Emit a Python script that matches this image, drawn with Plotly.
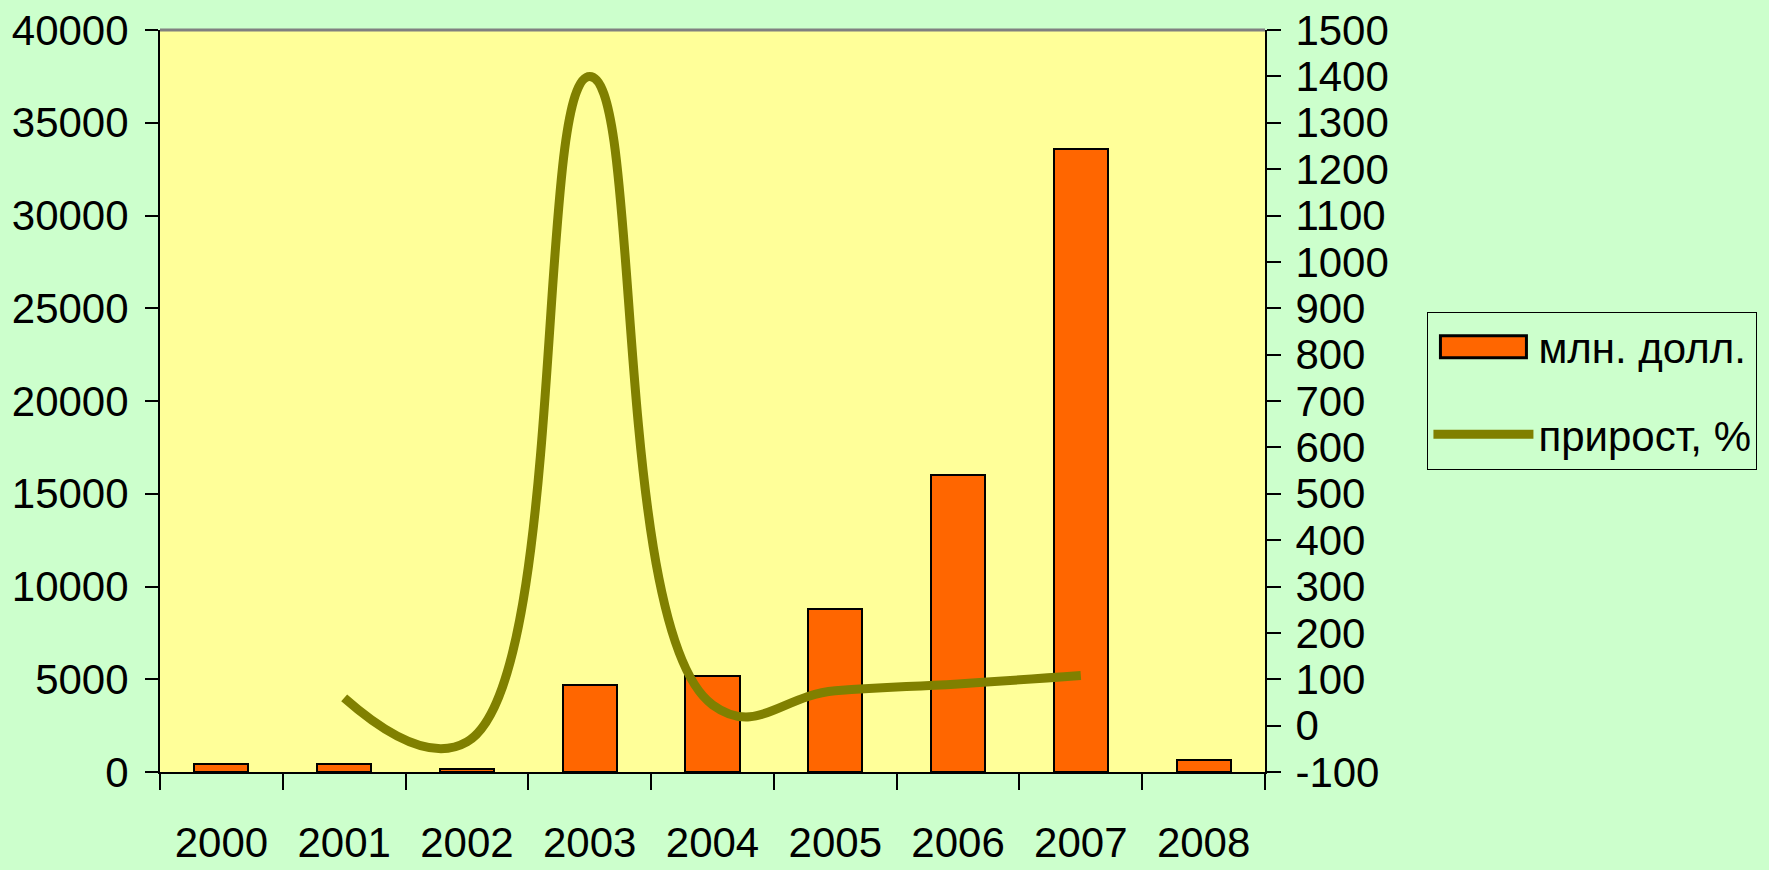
import plotly.graph_objects as go

# ---- data ----
years = ["2000", "2001", "2002", "2003", "2004", "2005", "2006", "2007", "2008"]
usd_mln = [450, 450, 180, 4700, 5200, 8800, 16000, 33600, 650]
growth_years = ["2001", "2002", "2003", "2004", "2005", "2006", "2007"]
growth_pct = [60, -35, 1400, 45, 75, 90, 108]
left_ticks = [0, 5000, 10000, 15000, 20000, 25000, 30000, 35000, 40000]
right_ticks = list(range(-100, 1501, 100))

pos = list(range(len(years)))
growth_pos = [years.index(y) for y in growth_years]
bounds = [p - 0.5 for p in pos] + [pos[-1] + 0.5]

FONT = "Liberation Sans, Arial, sans-serif"
FS = 42
PAPER = "#CCFFCC"
PLOT = "#FFFF99"

fig = go.Figure()
fig.add_trace(go.Bar(
    x=pos, y=usd_mln, width=0.44, name="млн. долл.", legendgroup="a",
    marker=dict(color="#FF6600", line=dict(color="black", width=2)),
    xaxis="x", yaxis="y",
))
fig.add_trace(go.Scatter(
    x=growth_pos, y=growth_pct, name="прирост, %", mode="lines", legendgroup="b",
    line=dict(color="#808000", width=9, shape="spline", smoothing=1.3),
    xaxis="x", yaxis="y2",
))

fig.update_layout(
    width=1769, height=870,
    margin=dict(l=160, r=496, t=30, b=98),
    paper_bgcolor=PAPER, plot_bgcolor=PLOT,
    font=dict(family=FONT, size=FS, color="black"),
    showlegend=True,
    bargap=0,
    xaxis=dict(
        range=[-0.5, len(years) - 0.5], tickmode="array", tickvals=pos, ticktext=years,
        ticks="", ticklabelstandoff=33, showgrid=False, zeroline=False, automargin=False,
        showline=True, linecolor="black", linewidth=2,
        minor=dict(tickmode="array", tickvals=bounds, ticks="outside", ticklen=16,
                   tickcolor="black", tickwidth=2, showgrid=False),
        tickfont=dict(size=FS),
    ),
    xaxis2=dict(
        overlaying="x", anchor="y", side="bottom", automargin=False,
        range=[-0.5, len(years) - 0.5], tickmode="array", tickvals=bounds,
        ticks="inside", ticklen=16, tickcolor="black", tickwidth=2,
        showticklabels=False, showgrid=False, zeroline=False, showline=False,
    ),
    yaxis=dict(
        range=[0, 40000], tickmode="array", tickvals=left_ticks,
        ticktext=[str(v) for v in left_ticks], automargin=False,
        ticks="outside", ticklen=13, tickcolor="black", tickwidth=2,
        showgrid=False, zeroline=False, showline=True, linecolor="black", linewidth=2,
        ticklabelstandoff=8, tickfont=dict(size=FS),
    ),
    yaxis3=dict(
        overlaying="y", anchor="x", side="left", automargin=False,
        range=[0, 40000], tickmode="array", tickvals=left_ticks,
        ticks="inside", ticklen=13, tickcolor="black", tickwidth=2,
        showticklabels=False, showgrid=False, zeroline=False, showline=False,
    ),
    yaxis2=dict(
        overlaying="y", anchor="x", side="right", automargin=False,
        range=[-100, 1500], tickmode="array", tickvals=right_ticks,
        ticktext=[str(v) for v in right_ticks],
        ticks="outside", ticklen=14, tickcolor="black", tickwidth=2,
        showgrid=False, zeroline=False, showline=True, linecolor="black", linewidth=2,
        ticklabelstandoff=6, tickfont=dict(size=FS),
    ),
    yaxis4=dict(
        overlaying="y", anchor="x", side="right", automargin=False,
        range=[-100, 1500], tickmode="array", tickvals=right_ticks,
        ticks="inside", ticklen=13, tickcolor="black", tickwidth=2,
        showticklabels=False, showgrid=False, zeroline=False, showline=False,
    ),
    legend=dict(
        x=1.147, y=0.62, xanchor="left", yanchor="top",
        bgcolor=PAPER, bordercolor="black", borderwidth=1,
        font=dict(size=FS), itemwidth=100, tracegroupgap=30,
    ),
    shapes=[dict(type="line", xref="x domain", yref="y domain",
                 x0=0, x1=1, y0=1, y1=1, line=dict(color="#808080", width=3))],
)

post = (
    "document.body.style.margin='0';document.body.style.overflow='hidden';"
    "var t=document.querySelectorAll('.legend .traces');"
    "if(t.length){var p=t[0].querySelector('.legendpoints path');"
    "if(p){p.setAttribute('d','M-43,-11H43V11H-43Z');p.style.strokeWidth='3px';}}"
)
fig.write_html("out.html", post_script=post, config={"displayModeBar": False})
